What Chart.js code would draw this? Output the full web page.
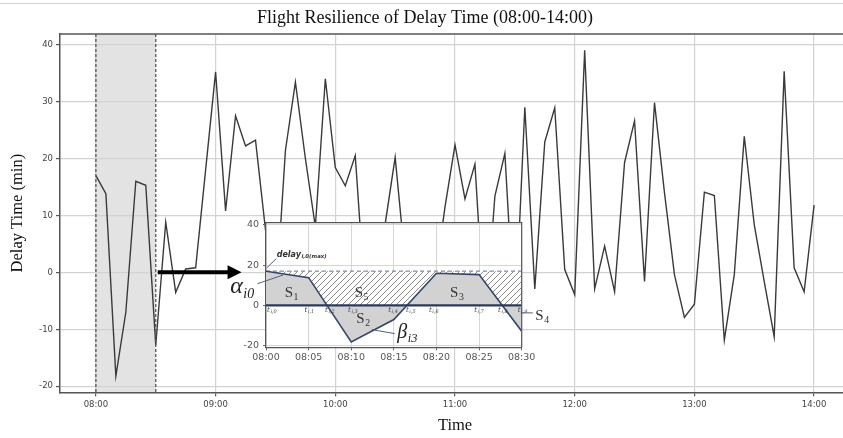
<!DOCTYPE html>
<html>
<head>
<meta charset="utf-8">
<script src="https://cdn.jsdelivr.net/npm/chart.js@4.4.1/dist/chart.umd.min.js"></script>
<style>
html,body{margin:0;padding:0;background:#fff;overflow:hidden;width:843px;height:438px;}
#wrap{position:relative;width:860px;height:438px;}
#main{position:absolute;left:0;top:0;}
#inset{position:absolute;left:225px;top:212px;}
#topline{position:absolute;left:0;top:3px;width:843px;height:1px;background:#d4d4d4;}
</style>
</head>
<body>
<div id="wrap">
<canvas id="main" width="860" height="438"></canvas>
<canvas id="inset" width="335" height="155"></canvas>
<div id="topline"></div>
</div>
<script>
// delay time every 5 minutes, 08:00 - 14:00
const timeLabels=[
"08:00","08:05","08:10","08:15","08:20","08:25","08:30","08:35","08:40","08:45","08:50","08:55",
"09:00","09:05","09:10","09:15","09:20","09:25","09:30","09:35","09:40","09:45","09:50","09:55",
"10:00","10:05","10:10","10:15","10:20","10:25","10:30","10:35","10:40","10:45","10:50","10:55",
"11:00","11:05","11:10","11:15","11:20","11:25","11:30","11:35","11:40","11:45","11:50","11:55",
"12:00","12:05","12:10","12:15","12:20","12:25","12:30","12:35","12:40","12:45","12:50","12:55",
"13:00","13:05","13:10","13:15","13:20","13:25","13:30","13:35","13:40","13:45","13:50","13:55",
"14:00"];
const delayValues=[
17,13.8,-18.2,-7,16,15.3,-12.8,8.8,-3.5,0.6,0.8,18,
35.2,10.8,27.5,22.2,23.2,7.5,-6,21.4,33.4,20,8,34,
18.4,15.2,20.5,-5,3,8.5,20.2,2,-6,6,-1,11.5,
22.4,12.9,19,-10,13.4,20.9,-10,29,-2.9,22.9,28.9,0.5,
-3.9,39,-2.9,4.6,-3.4,19.3,26.6,-1.6,29.8,14,-0.4,-7.9,
-5.6,14.1,13.5,-11.9,-0.4,23.9,8.4,-1.6,-11.3,35.3,0.8,-3.4,
11.8];
const xTickLabels=["08:00","09:00","10:00","11:00","12:00","13:00","14:00"];
const yTickValues=[-20,-10,0,10,20,30,40];

// zoomed window
const windowStart="08:00";
const windowEnd="08:30";
const insetTickLabels=["08:00","08:05","08:10","08:15","08:20","08:25","08:30"];
const insetYTicks=[-20,0,20,40];
const insetYRange=[-20.8,41.1];
const tLabelMinutes=[0.6,5.0,7.4,10.1,14.8,16.9,19.6,24.9,27.7,30.0];

function toMin(s){const p=s.split(":").map(Number);return (p[0]-8)*60+p[1];}
function fmt(v){const h=8+Math.floor(v/60),m=Math.round(v-Math.floor(v/60)*60);return String(h).padStart(2,"0")+":"+String(m).padStart(2,"0");}

const points=timeLabels.map((t,i)=>({x:toMin(t),y:delayValues[i]}));
const yMin=Math.min(...delayValues),yMax=Math.max(...delayValues);
const yPad=(yMax-yMin)*0.05;
const xFirst=toMin(timeLabels[0]),xLast=toMin(timeLabels[timeLabels.length-1]);
const xPad=(xLast-xFirst)*0.05;
const wStart=toMin(windowStart),wEnd=toMin(windowEnd);

const mainDecor={
id:"mainDecor",
beforeDraw(c){
const ctx=c.ctx,a=c.chartArea,x=c.scales.x;
ctx.save();
ctx.fillStyle="#fff";ctx.fillRect(0,0,c.width,c.height);
const x0=x.getPixelForValue(wStart),x1=x.getPixelForValue(wEnd);
ctx.fillStyle="#e3e3e3";ctx.fillRect(x0,a.top,x1-x0,a.bottom-a.top);
ctx.restore();
},
afterDatasetsDraw(c){
const ctx=c.ctx,a=c.chartArea,x=c.scales.x,y=c.scales.y;
ctx.save();
ctx.strokeStyle="#555";ctx.lineWidth=1.3;ctx.setLineDash([3,2]);
[wStart,wEnd].forEach(v=>{const px=x.getPixelForValue(v);ctx.beginPath();ctx.moveTo(px,a.top);ctx.lineTo(px,a.bottom);ctx.stroke();});
ctx.setLineDash([]);
// arrow to the inset
const ax0=x.getPixelForValue(31),ax1=x.getPixelForValue(73),ay=y.getPixelForValue(0);
ctx.strokeStyle="#000";ctx.fillStyle="#000";ctx.lineWidth=4;
ctx.beginPath();ctx.moveTo(ax0,ay);ctx.lineTo(ax1-12,ay);ctx.stroke();
ctx.beginPath();ctx.moveTo(ax1,ay);ctx.lineTo(ax1-14,ay-7);ctx.lineTo(ax1-14,ay+7);ctx.closePath();ctx.fill();
ctx.restore();
},
afterDraw(c){
const ctx=c.ctx,a=c.chartArea;
ctx.save();ctx.strokeStyle="#555";ctx.lineWidth=1.5;
ctx.beginPath();ctx.moveTo(a.left,a.top);ctx.lineTo(a.right,a.top);ctx.lineTo(a.right,a.bottom);ctx.stroke();
ctx.restore();
}
};

new Chart(document.getElementById("main"),{
type:"line",
data:{datasets:[{data:points,borderColor:"#3a3a3a",borderWidth:1.4,pointRadius:0,tension:0,fill:false}]},
options:{
responsive:false,animation:false,
layout:{padding:{left:0,right:10,top:0,bottom:0}},
plugins:{
legend:{display:false},tooltip:{enabled:false},
title:{display:true,text:"Flight Resilience of Delay Time (08:00-14:00)",color:"#111",
font:{family:"Liberation Serif",size:18,weight:"normal"},padding:{top:7,bottom:5.4}}
},
scales:{
x:{type:"linear",min:xFirst-xPad,max:xLast+xPad,
afterBuildTicks(s){s.ticks=xTickLabels.map(t=>({value:toMin(t)}));},
afterFit(s){s.height=45.7;},
ticks:{callback:v=>fmt(v),color:"#444",font:{family:"DejaVu Sans",size:8.5},maxRotation:0,autoSkip:false,padding:3},
grid:{color:"#d2d2d2",lineWidth:1.2,tickLength:4,tickColor:"#555"},
border:{color:"#555",width:1.5},
title:{display:true,text:"Time",color:"#111",font:{family:"Liberation Serif",size:16.5},padding:{top:3,bottom:2.6}}
},
y:{min:yMin-yPad,max:yMax+yPad,
afterBuildTicks(s){s.ticks=yTickValues.map(v=>({value:v}));},
afterFit(s){s.width=60;},
ticks:{color:"#444",font:{family:"DejaVu Sans",size:8.5},padding:3},
grid:{color:"#d2d2d2",lineWidth:1.2,tickLength:4,tickColor:"#555"},
border:{color:"#555",width:1.5},
title:{display:true,text:"Delay Time (min)",color:"#111",font:{family:"Liberation Serif",size:16.5},padding:{top:8.2,bottom:2}}
}
}
},
plugins:[mainDecor]
});

// ---- inset ----
const insetPoints=points.filter(p=>p.x>=wStart&&p.x<=wEnd);
const delayMax=Math.max(...insetPoints.map(p=>p.y));

const pc=document.createElement("canvas");pc.width=6;pc.height=6;
const pctx=pc.getContext("2d");
pctx.fillStyle="#fff";pctx.fillRect(0,0,6,6);
pctx.strokeStyle="#8a8a8a";pctx.lineWidth=1;
pctx.beginPath();pctx.moveTo(0,6);pctx.lineTo(6,0);pctx.moveTo(-1,1);pctx.lineTo(1,-1);pctx.moveTo(5,7);pctx.lineTo(7,5);pctx.stroke();
const hatch=pctx.createPattern(pc,"repeat");

function subText(ctx,px,py,main,sub,size,family,style,color,ratio){
ctx.fillStyle=color;ctx.textAlign="left";ctx.textBaseline="alphabetic";
ctx.font=style+" "+size+"px "+family;
ctx.fillText(main,px,py);
const w=ctx.measureText(main).width;
ctx.font=style+" "+(size*ratio).toFixed(1)+"px "+family;
ctx.fillText(sub,px+w+0.5,py+size*0.2);
}
function leader(ctx,x,y,a,b){
ctx.beginPath();ctx.moveTo(x.getPixelForValue(a[0]),y.getPixelForValue(a[1]));
ctx.lineTo(x.getPixelForValue(b[0]),y.getPixelForValue(b[1]));ctx.stroke();
}

const insetDecor={
id:"insetDecor",
beforeDraw(c){
const ctx=c.ctx,a=c.chartArea;
ctx.save();ctx.fillStyle="#fff";ctx.fillRect(a.left,a.top,a.right-a.left,a.bottom-a.top);ctx.restore();
},
afterDraw(c){
const ctx=c.ctx,a=c.chartArea,x=c.scales.x,y=c.scales.y;
ctx.save();
ctx.strokeStyle="#555";ctx.lineWidth=1.2;
ctx.beginPath();ctx.moveTo(a.left,a.top);ctx.lineTo(a.right,a.top);ctx.lineTo(a.right,a.bottom);ctx.stroke();
const P=(m,v)=>[x.getPixelForValue(m),y.getPixelForValue(v)];
// leaders
ctx.strokeStyle="#4f5f80";ctx.lineWidth=1;
leader(ctx,x,y,[1.2,23.2],[0.1,18.7]);
leader(ctx,x,y,[-1.0,10.8],[2.0,15.1]);
leader(ctx,x,y,[15.1,-14.0],[12.4,-12.0]);
leader(ctx,x,y,[29.9,-3.7],[31.3,-3.7]);
// labels
let p=P(1.25,24.2);subText(ctx,p[0],p[1],"delay","i,0(max)",8,"DejaVu Sans","italic bold","#333",0.68);
p=P(-4.2,6.2);subText(ctx,p[0],p[1],"\u03B1","i0",24,"Liberation Serif","italic","#222",0.58);
p=P(15.4,-16.0);subText(ctx,p[0],p[1],"\u03B2","i3",20,"Liberation Serif","italic","#222",0.62);
p=P(2.2,4.3);subText(ctx,p[0],p[1],"S","1",15,"Liberation Serif","","#333",0.65);
p=P(10.4,4.3);subText(ctx,p[0],p[1],"S","5",15,"Liberation Serif","","#333",0.65);
p=P(10.6,-8.6);subText(ctx,p[0],p[1],"S","2",15,"Liberation Serif","","#333",0.65);
p=P(21.6,4.3);subText(ctx,p[0],p[1],"S","3",15,"Liberation Serif","","#333",0.65);
p=P(31.6,-7.1);subText(ctx,p[0],p[1],"S","4",15,"Liberation Serif","","#333",0.65);
tLabelMinutes.forEach((m,i)=>{const q=P(m,-3.3);subText(ctx,q[0]-4,q[1],"t","i,"+i,7,"DejaVu Serif","italic","#444",0.72);});
ctx.restore();
}
};

new Chart(document.getElementById("inset"),{
type:"line",
data:{datasets:[
{data:insetPoints,borderColor:"#34466b",borderWidth:1.6,pointRadius:0,tension:0,fill:"origin",backgroundColor:"#d2d2d2",order:1},
{data:[{x:wStart,y:0},{x:wEnd,y:0}],borderColor:"#2b3a5c",borderWidth:2.2,pointRadius:0,fill:false,order:0},
{data:[{x:wStart,y:delayMax},{x:wEnd,y:delayMax}],borderColor:"#7d8db0",borderDash:[4,3],borderWidth:1.2,pointRadius:0,fill:{value:0},backgroundColor:hatch,order:2}
]},
options:{
responsive:false,animation:false,
layout:{padding:{left:0,right:38.3,top:10.7,bottom:0}},
plugins:{legend:{display:false},tooltip:{enabled:false}},
scales:{
x:{type:"linear",min:wStart,max:wEnd,
afterBuildTicks(s){s.ticks=insetTickLabels.map(t=>({value:toMin(t)}));},
afterFit(s){s.height=19.7;},
ticks:{callback:v=>fmt(v),color:"#555",font:{family:"DejaVu Sans",size:9.5},maxRotation:0,autoSkip:false,padding:2},
grid:{color:"#d6d6d6",lineWidth:1,tickLength:3,tickColor:"#666"},
border:{color:"#555",width:1.2}
},
y:{min:insetYRange[0],max:insetYRange[1],
afterBuildTicks(s){s.ticks=insetYTicks.map(v=>({value:v}));},
afterFit(s){s.width=41;},
ticks:{color:"#555",font:{family:"DejaVu Sans",size:9.5},padding:4},
grid:{color:"#d6d6d6",lineWidth:1,tickLength:3,tickColor:"#666"},
border:{color:"#555",width:1.2}
}
}
},
plugins:[insetDecor]
});
</script>
</body>
</html>
